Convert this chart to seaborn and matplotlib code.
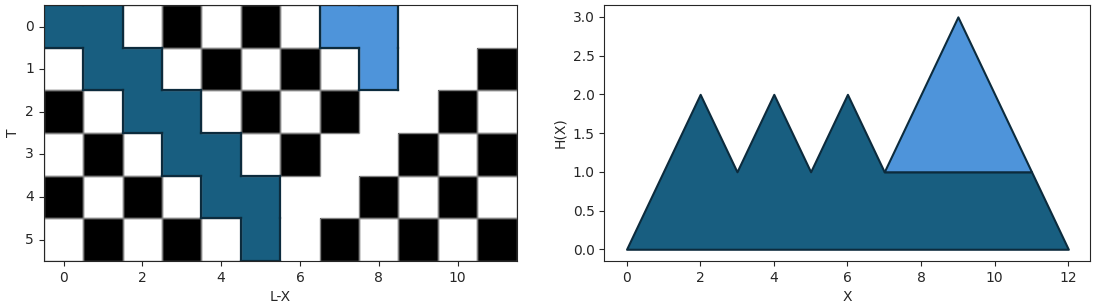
import numpy as np
import matplotlib
matplotlib.use("Agg")
import matplotlib.pyplot as plt
from matplotlib.colors import ListedColormap
from matplotlib.collections import LineCollection
import seaborn as sns

# grid codes: 0 white, 1 black, 2 dark path, 3 light region, nan blank
N = np.nan
grid_rows = [
    [2, 2, 0, 1, 0, 1, 0, 3, 3, N, N, N],
    [0, 2, 2, 0, 1, 0, 1, 0, 3, N, N, 1],
    [1, 0, 2, 2, 0, 1, 0, 1, N, N, 1, 0],
    [0, 1, 0, 2, 2, 0, 1, N, N, 1, 0, 1],
    [1, 0, 1, 0, 2, 2, N, N, 1, 0, 1, 0],
    [0, 1, 0, 1, 0, 2, N, 1, 0, 1, 0, 1],
]
t_labels = [0, 1, 2, 3, 4, 5]
lx_labels = [0, 2, 4, 6, 8, 10]

# right panel profile
x_outer = [0, 2, 3, 4, 5, 6, 7, 11, 12]
h_outer = [0, 2, 1, 2, 1, 2, 1, 1, 0]
x_peak = [7, 9, 11]
h_peak = [1, 3, 1]
peak_base = 1

dark = "#185e80"
light = "#4e94da"
edge = "#0c2b3d"

sns.set_style("ticks")
plt.rcParams["font.family"] = ["DejaVu Sans"]
plt.rcParams["axes.edgecolor"] = "0.15"

grid = np.array(grid_rows, dtype=float)
cmap = ListedColormap(["white", "black", dark, light])

fig = plt.figure(figsize=(10.97, 3.08), dpi=100)
ax1 = fig.add_axes([0.040, 0.153, 0.431, 0.830])
ax2 = fig.add_axes([0.551, 0.153, 0.443, 0.830])

sns.heatmap(grid, mask=np.isnan(grid), cmap=cmap, vmin=-0.5, vmax=3.5,
            linewidths=0, cbar=False, ax=ax1)

nr, nc = grid.shape
# grey borders round checker cells, dark outline round coloured regions
grey_segs = []
out_segs = []
for r in range(nr):
    for c in range(nc):
        v = grid[r, c]
        if v in (0, 1):
            grey_segs += [[(c, r), (c + 1, r)], [(c, r + 1), (c + 1, r + 1)],
                          [(c, r), (c, r + 1)], [(c + 1, r), (c + 1, r + 1)]]
        elif v in (2, 3):
            def other(rr, cc):
                if rr < 0 or rr >= nr or cc < 0 or cc >= nc:
                    return True
                return grid[rr, cc] != v
            if other(r - 1, c):
                out_segs.append([(c, r), (c + 1, r)])
            if other(r + 1, c):
                out_segs.append([(c, r + 1), (c + 1, r + 1)])
            if other(r, c - 1):
                out_segs.append([(c, r), (c, r + 1)])
            if other(r, c + 1):
                out_segs.append([(c + 1, r), (c + 1, r + 1)])
ax1.add_collection(LineCollection(grey_segs, colors="0.5", linewidths=1.0, zorder=2))
ax1.add_collection(LineCollection(out_segs, colors=edge, linewidths=1.6,
                                  capstyle="projecting", zorder=3))

for s in ax1.spines.values():
    s.set_visible(True)
    s.set_linewidth(0.8)
    s.set_zorder(4)
ax1.set_xticks([v + 0.5 for v in lx_labels])
ax1.set_xticklabels(lx_labels, rotation=0)
ax1.set_yticks([v + 0.5 for v in t_labels])
ax1.set_yticklabels(t_labels, rotation=0)
ax1.tick_params(left=True, bottom=True, length=3.5, width=0.8, labelsize=10)
ax1.set_xlabel("L-X", fontsize=10)
ax1.set_ylabel("T", fontsize=10)

# right panel
ax2.fill_between(x_outer, h_outer, color=dark, edgecolor=edge, linewidth=1.5)
ax2.fill_between(x_peak, h_peak, peak_base, color=light, edgecolor=edge, linewidth=1.5)
ax2.set_xlim(-0.6, 12.6)
ax2.set_ylim(-0.15, 3.15)
ax2.set_xticks([0, 2, 4, 6, 8, 10, 12])
ax2.set_yticks([0, 0.5, 1, 1.5, 2, 2.5, 3])
ax2.yaxis.set_major_formatter(matplotlib.ticker.FormatStrFormatter("%.1f"))
ax2.tick_params(length=3.5, width=0.8, labelsize=10)
for s in ax2.spines.values():
    s.set_visible(True)
    s.set_linewidth(0.8)
ax2.set_xlabel("X", fontsize=10)
ax2.set_ylabel("H(X)", fontsize=10)

fig.savefig("out.png", dpi=100)
